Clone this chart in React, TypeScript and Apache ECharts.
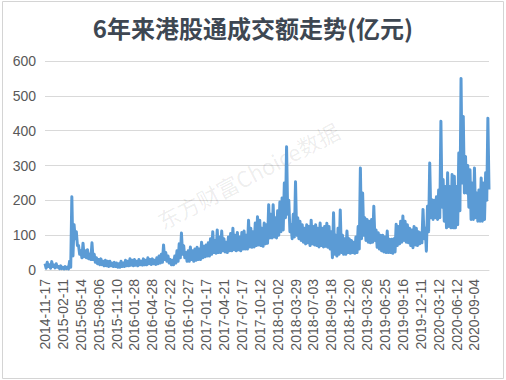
import React, { useEffect, useRef } from "react";
import * as echarts from "echarts";

const TITLE = "6年来港股通成交额走势(亿元)";
const WATERMARK = "东方财富Choice数据";

const tickLabels = [
  "2014-11-17", "2015-02-11", "2015-05-14", "2015-08-06", "2015-11-10",
  "2016-01-28", "2016-04-28", "2016-07-22", "2016-10-27", "2017-01-17",
  "2017-04-21", "2017-07-17", "2017-10-12", "2018-01-02", "2018-03-29",
  "2018-07-03", "2018-09-18", "2018-12-20", "2019-03-26", "2019-06-25",
  "2019-09-16", "2019-12-11", "2020-03-12", "2020-06-12", "2020-09-04",
];

// samples per labelled interval (each sample ≈ 7-8 trading days)
const STEP = 8;

// upper envelope of daily turnover in each sample window (亿元)
const turnoverHigh = [
  18, 22, 15, 24, 14, 18, 10, 12,
  8, 10, 8, 25, 210, 130, 110, 70,
  55, 77, 55, 58, 45, 78, 45, 35,
  30, 32, 25, 28, 25, 25, 20, 22,
  20, 18, 25, 20, 28, 25, 32, 28,
  30, 25, 30, 25, 32, 28, 35, 30,
  32, 28, 35, 40, 45, 72, 50, 40,
  30, 28, 40, 55, 75, 106, 70, 50,
  55, 66, 55, 60, 65, 60, 80, 68,
  72, 78, 90, 110, 85, 115, 95, 112,
  90, 80, 95, 105, 120, 100, 108, 95,
  108, 112, 100, 143, 120, 110, 135, 153,
  143, 120, 135, 130, 187, 160, 187, 150,
  170, 195, 207, 250, 354, 200, 130, 160,
  253, 150, 140, 130, 120, 130, 125, 143,
  125, 130, 120, 135, 120, 125, 134, 125,
  110, 164, 100, 120, 172, 100, 90, 112,
  90, 85, 80, 95, 125, 293, 221, 150,
  145, 140, 145, 183, 115, 107, 100, 100,
  95, 112, 88, 88, 90, 131, 125, 140,
  155, 140, 130, 120, 115, 125, 120, 110,
  107, 174, 120, 183, 307, 202, 200, 210,
  230, 427, 260, 240, 279, 240, 274, 269,
  240, 336, 550, 441, 326, 300, 288, 250,
  293, 221, 230, 264, 250, 279, 436,
];

// lower envelope of daily turnover in each sample window (亿元)
const turnoverLow = [
  5, 10, 5, 10, 6, 8, 4, 4,
  3, 4, 3, 8, 40, 90, 70, 45,
  35, 38, 35, 32, 30, 30, 22, 18,
  15, 15, 12, 12, 10, 12, 10, 10,
  8, 8, 10, 10, 12, 12, 14, 12,
  14, 12, 15, 14, 15, 15, 18, 16,
  18, 16, 18, 20, 22, 30, 25, 20,
  15, 15, 20, 25, 35, 45, 35, 25,
  25, 30, 25, 28, 30, 30, 35, 38,
  40, 40, 45, 50, 48, 50, 50, 55,
  52, 50, 55, 55, 58, 55, 58, 55,
  60, 60, 60, 66, 65, 66, 70, 72,
  70, 68, 75, 77, 92, 92, 95, 92,
  100, 110, 115, 150, 160, 110, 90, 95,
  100, 90, 85, 80, 75, 78, 70, 75,
  72, 70, 66, 70, 66, 68, 65, 60,
  35, 45, 40, 45, 50, 45, 45, 50,
  48, 50, 48, 50, 60, 90, 100, 85,
  80, 78, 80, 85, 65, 60, 55, 52,
  50, 50, 50, 48, 52, 70, 75, 80,
  85, 80, 78, 70, 64, 72, 70, 75,
  78, 90, 54, 110, 150, 145, 150, 145,
  150, 180, 140, 121, 125, 121, 121, 121,
  130, 170, 250, 221, 221, 180, 145, 145,
  150, 140, 140, 140, 145, 200, 231,
];

const yMin = 0;
const yMax = 600;
const yInterval = 100;

export default function App() {
  const ref = useRef<HTMLDivElement>(null);

  useEffect(() => {
    if (!ref.current) return;
    const chart = echarts.init(ref.current, null, { renderer: "svg" });
    const data: number[][] = [];
    turnoverHigh.forEach((v, i) => {
      data.push([i, v]);
      data.push([i + 0.5, turnoverLow[i]]);
    });
    chart.setOption({
      animation: false,
      backgroundColor: "#ffffff",
      title: {
        text: TITLE,
        left: "center",
        top: 10,
        textStyle: {
          fontFamily: "Noto Sans CJK SC",
          fontSize: 24,
          fontWeight: "bold",
          color: "#3e4752",
        },
      },
      graphic: [
        {
          type: "rect",
          shape: { x: 2.5, y: 1.5, width: 501, height: 377 },
          style: { fill: "none", stroke: "#d4d4d4", lineWidth: 1 },
          silent: true,
          z: 0,
        },
        {
          type: "text",
          x: 248,
          y: 175,
          rotation: 0.48,
          silent: true,
          z: 1,
          style: {
            text: WATERMARK,
            font: '22px "Noto Sans CJK SC"',
            fill: "rgba(0,0,0,0.08)",
            align: "center",
            verticalAlign: "middle",
          },
        },
      ],
      grid: { left: 45, right: 17, top: 61, bottom: 110, containLabel: false },
      xAxis: {
        type: "value",
        min: 0,
        max: turnoverHigh.length - 0.5,
        interval: STEP,
        axisLine: { show: true, lineStyle: { color: "#d9d9d9", width: 1 } },
        axisTick: { show: false },
        splitLine: { show: false },
        axisLabel: {
          rotate: 90,
          margin: 9,
          fontSize: 14,
          fontFamily: "Liberation Sans",
          color: "#595959",
          showMaxLabel: false,
          formatter: (v: number) => {
            const k = v / STEP;
            return Number.isInteger(k) && k < tickLabels.length ? tickLabels[k] : "";
          },
        },
      },
      yAxis: {
        type: "value",
        min: yMin,
        max: yMax,
        interval: yInterval,
        axisLine: { show: false },
        axisTick: { show: false },
        splitLine: { lineStyle: { color: "#d9d9d9", width: 1 } },
        axisLabel: {
          margin: 9,
          fontSize: 14,
          fontFamily: "Liberation Sans",
          color: "#595959",
        },
      },
      series: [
        {
          type: "line",
          data,
          showSymbol: false,
          symbol: "none",
          lineStyle: { color: "#5b9bd5", width: 3, join: "round" },
          z: 2,
        },
      ],
    });
    return () => chart.dispose();
  }, []);

  return (
    <div
      ref={ref}
      style={{ position: "fixed", left: 0, top: 0, width: 506, height: 380, background: "#fff" }}
    />
  );
}
